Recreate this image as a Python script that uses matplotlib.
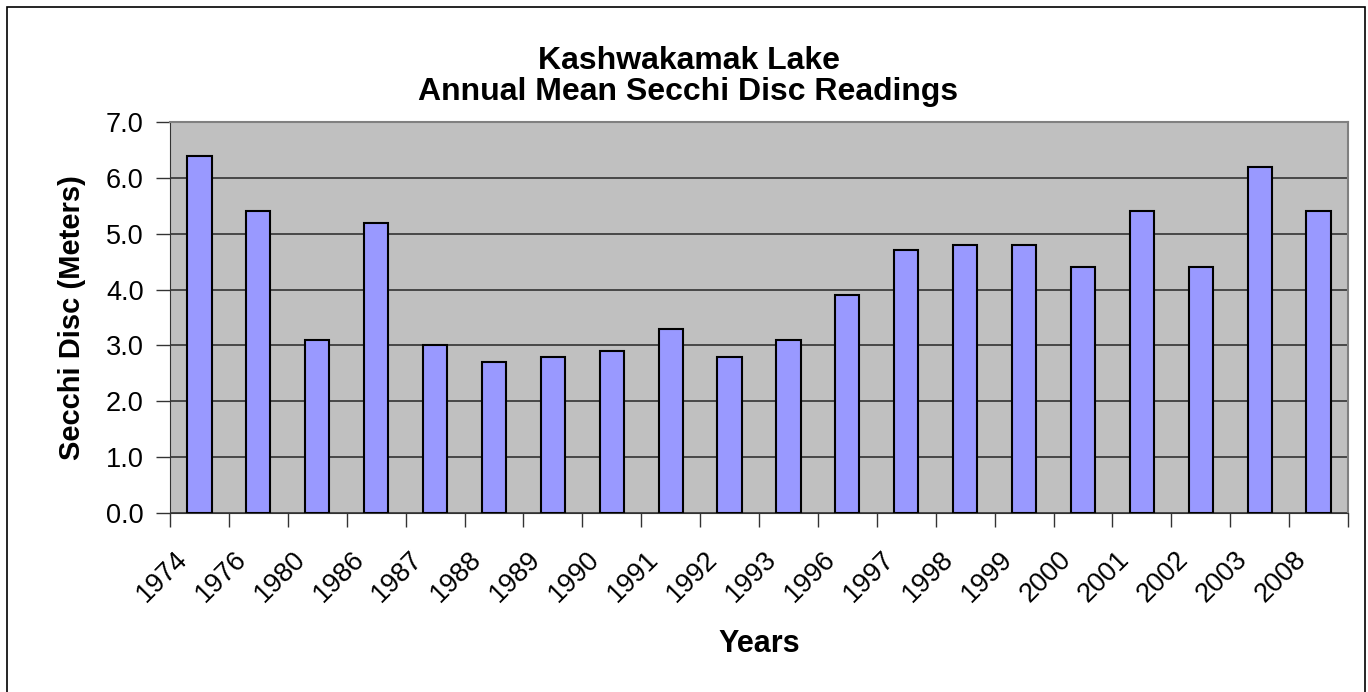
import numpy as np
import matplotlib
matplotlib.use('Agg')
from matplotlib import pyplot as plt
from matplotlib.patches import Rectangle
from matplotlib.transforms import ScaledTranslation

plt.rcParams['font.family'] = ['Liberation Sans', 'DejaVu Sans']

# annual mean secchi disc readings
years = ['1974', '1976', '1980', '1986', '1987', '1988', '1989', '1990', '1991', '1992',
         '1993', '1996', '1997', '1998', '1999', '2000', '2001', '2002', '2003', '2008']
secchi = [6.4, 5.4, 3.1, 5.2, 3.0, 2.7, 2.8, 2.9, 3.3, 2.8,
          3.1, 3.9, 4.7, 4.8, 4.8, 4.4, 5.4, 4.4, 6.2, 5.4]

W, H = 1368, 692
fig = plt.figure(figsize=(W / 100, H / 100), dpi=100)
ax = fig.add_axes([170 / W, 1 - 513 / H, (1348 - 170) / W, (513 - 122) / H])

x = np.arange(len(years))
ax.set_facecolor('#C0C0C0')
ax.bar(x, secchi, width=0.41, color='#9999FF', edgecolor='black', linewidth=1.5, zorder=3)

ax.set_xlim(-0.5, len(years) - 0.5)
ax.set_ylim(0, 7)
yt = np.arange(0, 7.5, 1.0)
ax.set_yticks(yt)
ax.set_yticklabels(['%.1f' % v for v in yt], fontsize=19.5)
ax.yaxis.grid(True, color='#333333', linewidth=1.2, zorder=1)

# ticks between categories, labels at the centres
ax.set_xticks(np.arange(-0.5, len(years), 1.0))
ax.set_xticklabels([])
ax.set_xticks(x, minor=True)
ax.set_xticklabels(years, minor=True, fontsize=19.5, rotation=45, ha='right', va='center',
                   rotation_mode='anchor')
ax.tick_params(axis='x', which='minor', length=0, pad=30.5)
ax.tick_params(axis='x', which='major', length=10, width=1, color='#333333', direction='out')
ax.tick_params(axis='y', length=10, width=1, color='#333333', direction='out', pad=9)
shift = ScaledTranslation(-16 / 100, 0, fig.dpi_scale_trans)
for lbl in ax.xaxis.get_minorticklabels():
    lbl.set_transform(lbl.get_transform() + shift)

for side in ['top', 'right']:
    ax.spines[side].set_color('#808080')
    ax.spines[side].set_linewidth(1.5)
ax.spines['left'].set_color('#333333')
ax.spines['bottom'].set_color('#333333')

ax.set_ylabel('Secchi Disc (Meters)', fontsize=21, fontweight='bold', va='center')
ax.yaxis.set_label_coords((72 - 170) / 1178, 0.5)
ax.set_xlabel('Years', fontsize=22, fontweight='bold', va='center')
ax.xaxis.set_label_coords((759 - 170) / 1178, (513 - 644) / 391)
fig.text(688.5 / W, 1 - 61 / H, 'Kashwakamak Lake', ha='center', va='center',
         fontsize=23, fontweight='bold')
fig.text(688.5 / W, 1 - 92 / H, 'Annual Mean Secchi Disc Readings', ha='center', va='center',
         fontsize=23, fontweight='bold')

# chart border (bottom edge is cut off in the original)
fig.patches.append(Rectangle((7 / W, -0.05), 1358 / W, 1.05 - 7 / H, transform=fig.transFigure,
                             fill=False, edgecolor='black', linewidth=1.2))

plt.savefig('out.png', dpi=100)
